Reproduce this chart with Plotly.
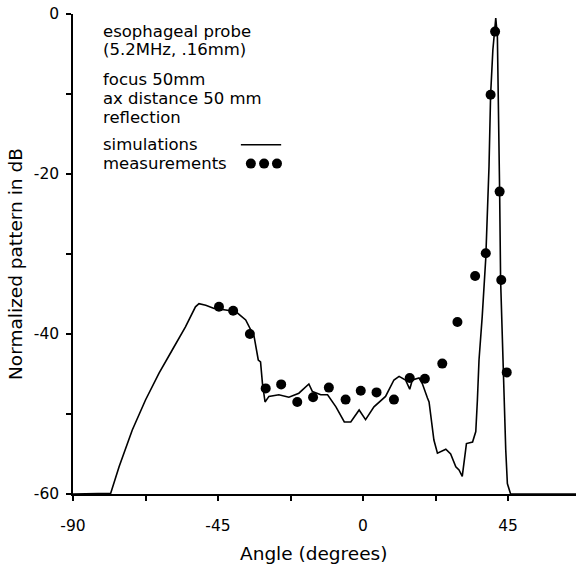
import plotly.graph_objects as go

# Simulation curve (angle in degrees, normalized pattern in dB)
sim_angle = [-90, -78.3, -75.7, -71.6, -67.5, -63.3, -59.2, -55.1, -52.0, -50.9,
             -48.8, -46.2, -42.6, -39.5, -36.4, -33.8, -32.5, -31.8, -31.2, -30.4,
             -29.2, -26.1, -23.0, -19.9, -16.8, -15.7, -13.1, -11.0, -8.4, -5.8,
             -3.8, -1.2, 0.8, 3.4, 7.0, 9.6, 11.2, 13.2, 14.5, 15.3,
             17.4, 18.4, 20.0, 20.5, 22.0, 23.1, 25.7, 27.2, 28.8, 29.8,
             30.8, 31.7, 32.1, 34.0, 35.0, 35.5, 36.0, 37.0, 38.1, 39.1,
             39.6, 40.3, 41.2, 41.7, 42.2, 42.4, 42.7, 43.4, 44.3, 44.8,
             45.8, 90]
sim_db = [-60, -59.9, -56.6, -52.0, -48.25, -44.9, -42.0, -39.1, -36.6, -36.2,
          -36.4, -36.8, -37.0, -37.2, -38.25, -40.3, -43.25, -43.5, -46.2, -48.5,
          -47.8, -47.6, -47.9, -47.4, -46.25, -47.2, -47.6, -47.6, -49.1, -51.0,
          -51.0, -49.5, -50.7, -49.1, -47.8, -45.75, -45.3, -45.75, -46.9, -45.75,
          -45.5, -46.2, -48.0, -48.5, -53.25, -54.9, -54.4, -55.0, -56.6, -57.0,
          -57.8, -55.3, -53.7, -53.5, -52.2, -48.25, -43.25, -37.8, -30.5, -19.1,
          -10.1, -4.5, -0.5, -2.8, -14.9, -22.2, -33.25, -44.1, -54.5, -58.7,
          -60, -60]

# Measurements
meas_angle = [-44.7, -40.3, -35.1, -30.2, -25.4, -20.4, -15.5, -10.6, -5.4, -0.7,
              4.2, 9.6, 14.5, 19.2, 24.6, 29.3, 34.8, 38.1, 39.6, 41.0,
              42.4, 42.9, 44.6]
meas_db = [-36.6, -37.1, -40.0, -46.8, -46.3, -48.5, -47.9, -46.7, -48.2, -47.1,
           -47.3, -48.2, -45.5, -45.6, -43.7, -38.5, -32.75, -29.9, -10.1, -2.2,
           -22.2, -33.25, -44.8]

x_tickvals = [-90, -67.5, -45, -22.5, 0, 22.5, 45]
x_ticktext = ["-90", "", "-45", "", "0", "", "45"]
y_tickvals = [0, -10, -20, -30, -40, -50, -60]
y_ticktext = ["0", "", "-20", "", "-40", "", "-60"]

info_lines = ["esophageal probe", "(5.2MHz, .16mm)", "focus 50mm",
              "ax distance 50 mm", "reflection", "simulations", "measurements"]

FONT = "DejaVu Sans"
TXT = 16.5
fig = go.Figure()
fig.add_trace(go.Scatter(x=sim_angle, y=sim_db, mode="lines",
                         line=dict(color="black", width=1.6), showlegend=False))
fig.add_trace(go.Scatter(x=meas_angle, y=meas_db, mode="markers",
                         marker=dict(color="black", size=10), showlegend=False,
                         cliponaxis=False))

# text block (y positions in dB)
text_y = [-2.15, -4.4, -8.15, -10.55, -12.9, -16.35, -18.7]
annotations = []
for t, yy in zip(info_lines, text_y):
    annotations.append(dict(x=-81, y=yy, xref="x", yref="y", text=t, showarrow=False,
                            xanchor="left", yanchor="middle", borderpad=0,
                            font=dict(family=FONT, size=TXT, color="black")))
annotations.append(dict(x=15, y=264, xref="paper", yref="paper", text="Normalized pattern in dB",
                        showarrow=False, textangle=-90, font=dict(family=FONT, size=18.5, color="black")))
annotations.append(dict(x=313, y=553, xref="paper", yref="paper", text="Angle (degrees)",
                        showarrow=False, font=dict(family=FONT, size=18.5, color="black")))

W, H = 576, 567
L, R, T, B = 73, 0, 14, 73
pw, ph = W - L - R, H - T - B
for a in annotations[-2:]:
    a["x"] = (a["x"] - L) / pw
    a["y"] = (H - B - a["y"]) / ph
    a["xanchor"] = "center"
    a["yanchor"] = "middle"

shapes = [
    dict(type="line", xref="x", yref="y", x0=-37.9, x1=-25.4, y0=-16.35, y1=-16.35,
         line=dict(color="black", width=1.5)),
]
for cx in [-34.8, -30.7, -26.7]:
    shapes.append(dict(type="circle", xref="x", yref="y", xsizemode="pixel", ysizemode="pixel",
                       xanchor=cx, yanchor=-18.7, x0=-5, x1=5, y0=-5, y1=5,
                       fillcolor="black", line=dict(color="black", width=0)))

fig.update_layout(
    width=W, height=H, margin=dict(l=L, r=R, t=T, b=B),
    paper_bgcolor="white", plot_bgcolor="white",
    font=dict(family=FONT, size=15, color="black"),
    annotations=annotations, shapes=shapes,
    xaxis=dict(range=[-90, 66.1], tickvals=x_tickvals, ticktext=x_ticktext,
               showgrid=False, zeroline=False, showline=True, linecolor="black", linewidth=1.5,
               ticks="outside", ticklen=5, tickcolor="black", tickwidth=1.5,
               ticklabelstandoff=12, tickfont=dict(family=FONT, size=15.5)),
    yaxis=dict(range=[-60, 0], tickvals=y_tickvals, ticktext=y_ticktext,
               showgrid=False, zeroline=False, showline=True, linecolor="black", linewidth=1.5,
               ticks="outside", ticklen=5, tickcolor="black", tickwidth=1.5,
               ticklabelstandoff=4, tickfont=dict(family=FONT, size=15.5)),
)
fig.write_html("out.html")
